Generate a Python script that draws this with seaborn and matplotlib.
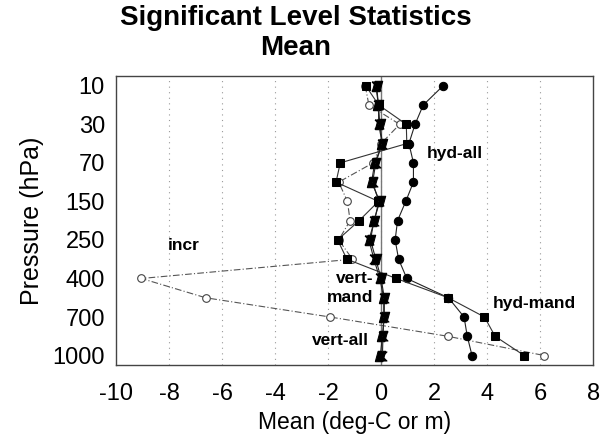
import numpy as np
import seaborn as sns
import matplotlib.pyplot as plt
from matplotlib.ticker import MultipleLocator

# pressure levels (hPa), top to bottom
levels = [10, 20, 30, 50, 70, 100, 150, 200, 250, 300, 400, 500, 700, 850, 1000]
lev_idx = list(range(len(levels)))

# mean values (deg-C or m)
hyd_all = [2.34, 1.59, 1.28, 1.05, 1.22, 1.22, 0.93, 0.62, 0.53, 0.66, 0.97, 2.54, 3.13, 3.25, 3.43]
hyd_mand = [-0.58, -0.09, 0.95, 0.97, -1.54, -1.70, -0.10, -0.83, -1.64, -1.29, 0.57, 2.53, 3.90, 4.30, 5.40]
vert_all = [-0.17, -0.10, -0.05, 0.05, -0.24, -0.36, -0.05, -0.27, -0.40, -0.20, 0.00, 0.12, 0.12, 0.05, -0.03]
vert_mand = [-0.20, -0.10, -0.09, 0.04, -0.20, -0.32, -0.09, -0.25, -0.46, -0.27, -0.05, 0.10, 0.10, 0.07, 0.05]
incr = [-0.60, -0.46, 0.70, 0.00, -0.30, -1.60, -1.27, -1.17, -1.60, -1.08, -9.04, -6.62, -1.92, 2.52, 6.16]

sns.set_style("white")
plt.rcParams['font.family'] = ['Liberation Sans', 'DejaVu Sans']
plt.rcParams['axes.unicode_minus'] = False
plt.rcParams['text.color'] = 'black'
plt.rcParams['axes.labelcolor'] = 'black'
plt.rcParams['xtick.color'] = 'black'
plt.rcParams['ytick.color'] = 'black'

fig = plt.figure(figsize=(6.01, 4.40), dpi=100)
ax = fig.add_axes([0.193, 0.170, 0.794, 0.657])

# grid + zero line
for gx in range(-8, 8, 2):
    ax.axvline(gx, color='#999999', ls=(0, (1, 4)), lw=0.8, zorder=0)
ax.axvline(0, color='#777777', lw=1.0, zorder=1)

parallelogram = [(-1, -1), (0.45, -1), (1, 1), (-0.45, 1), (-1, -1)]
hourglass = [(-1, 1), (1, 1), (-1, -1), (1, -1), (-1, 1)]

sns.lineplot(x=incr, y=lev_idx, orient="y", ax=ax, color='#555555', lw=0.8,
             ls=(0, (6, 2, 1, 2)), marker='o', markersize=5.5, markerfacecolor='white',
             markeredgecolor='#444444', markeredgewidth=0.8, zorder=2)
sns.lineplot(x=hyd_all, y=lev_idx, orient="y", ax=ax, color='#222222', lw=0.8,
             marker='o', markersize=6, markerfacecolor='black', markeredgecolor='black', zorder=3)
sns.lineplot(x=hyd_mand, y=lev_idx, orient="y", ax=ax, color='#333333', lw=0.8,
             marker='s', markersize=6.3, markerfacecolor='black', markeredgecolor='black', zorder=3)
sns.lineplot(x=vert_all, y=lev_idx, orient="y", ax=ax, color='#222222', lw=0.8,
             marker=parallelogram, markersize=7.5, markerfacecolor='black', markeredgecolor='black', zorder=4)
sns.lineplot(x=vert_mand, y=lev_idx, orient="y", ax=ax, color='#222222', lw=0.8,
             marker=hourglass, markersize=6.5, markerfacecolor='black', markeredgecolor='black', zorder=4)

# series labels
lab = dict(fontsize=12.5, fontweight='bold', va='center')
ax.text(1.72, 3.5, 'hyd-all', ha='left', **lab)
ax.text(-7.46, 8.3, 'incr', ha='center', **lab)
ax.text(-0.3, 10.0, 'vert-', ha='right', **lab)
ax.text(-0.3, 11.0, 'mand', ha='right', **lab)
ax.text(-0.45, 13.2, 'vert-all', ha='right', **lab)
ax.text(4.22, 11.3, 'hyd-mand', ha='left', **lab)

ax.set_xlim(-10, 8)
ax.set_ylim(14.5, -0.5)
ax.xaxis.set_major_locator(MultipleLocator(2))
ax.xaxis.set_minor_locator(MultipleLocator(1))
ax.set_yticks(lev_idx[::2])
ax.set_yticklabels([str(p) for p in levels[::2]])
ax.set_yticks(lev_idx[1::2], minor=True)
ax.tick_params(axis='both', which='major', direction='inout', length=8, width=1,
               color='#444444', labelsize=17, pad=4)
ax.tick_params(axis='both', which='minor', direction='inout', length=5, width=0.8, color='#444444')
ax.tick_params(axis='x', which='major', pad=9)
for s in ax.spines.values():
    s.set_color('#444444')
    s.set_linewidth(1)

ax.set_xlabel('Mean (deg-C or m)', fontsize=16.5, labelpad=4)
ax.set_ylabel('Pressure (hPa)', fontsize=18, labelpad=6)

fig.text(0.492, 0.960, 'Significant Level Statistics', ha='center', va='center',
         fontsize=20, fontweight='bold')
fig.text(0.492, 0.891, 'Mean', ha='center', va='center', fontsize=20, fontweight='bold')

fig.savefig('out.png', dpi=100)
